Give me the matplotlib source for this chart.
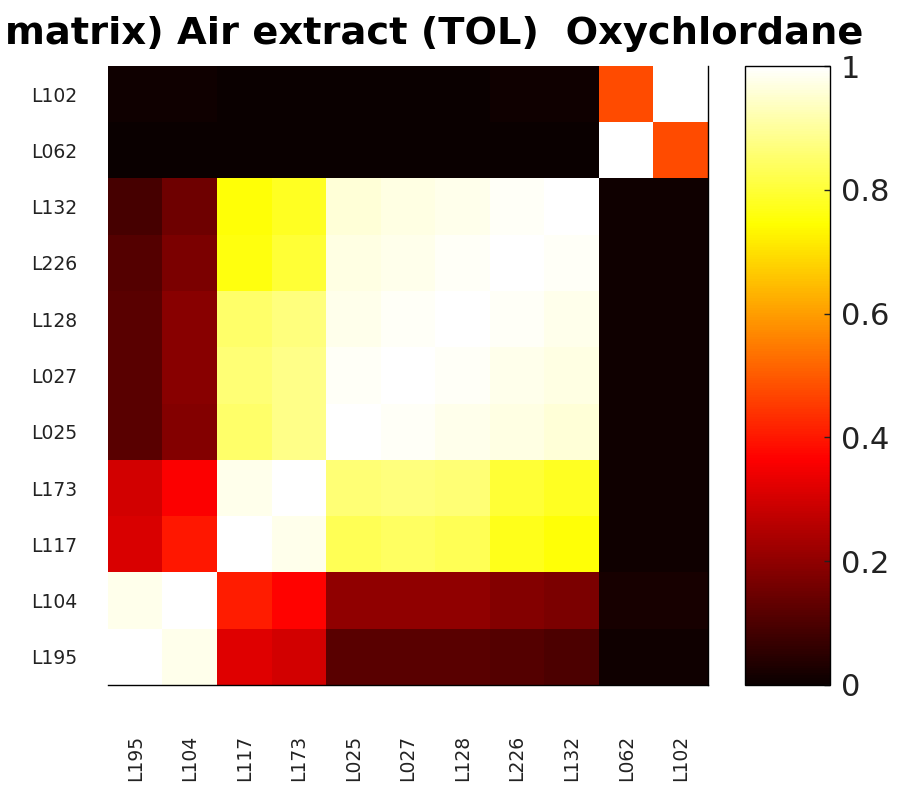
import numpy as np
import matplotlib
matplotlib.use("Agg")
import matplotlib.pyplot as plt

# sample labels (rows top -> bottom, columns left -> right)
row_labels = ["L102", "L062", "L132", "L226", "L128", "L027", "L025", "L173", "L117", "L104", "L195"]
col_labels = ["L195", "L104", "L117", "L173", "L025", "L027", "L128", "L226", "L132", "L062", "L102"]

# correlation values
r_L102 = [0.01, 0.01, 0.00, 0.00, 0.00, 0.00, 0.00, 0.01, 0.01, 0.48, 1.00]
r_L062 = [0.00, 0.00, 0.00, 0.00, 0.00, 0.00, 0.00, 0.00, 0.00, 1.00, 0.48]
r_L132 = [0.09, 0.15, 0.75, 0.78, 0.96, 0.97, 0.98, 0.99, 1.00, 0.01, 0.01]
r_L226 = [0.11, 0.17, 0.76, 0.80, 0.97, 0.98, 0.99, 1.00, 0.99, 0.01, 0.01]
r_L128 = [0.12, 0.19, 0.85, 0.87, 0.98, 0.99, 1.00, 0.99, 0.98, 0.01, 0.01]
r_L027 = [0.12, 0.19, 0.86, 0.88, 0.99, 1.00, 0.99, 0.98, 0.97, 0.01, 0.01]
r_L025 = [0.12, 0.18, 0.85, 0.88, 1.00, 0.99, 0.98, 0.97, 0.96, 0.01, 0.01]
r_L173 = [0.30, 0.36, 0.98, 1.00, 0.86, 0.87, 0.86, 0.80, 0.78, 0.01, 0.01]
r_L117 = [0.31, 0.40, 1.00, 0.98, 0.83, 0.84, 0.83, 0.77, 0.75, 0.01, 0.01]
r_L104 = [0.98, 1.00, 0.41, 0.37, 0.20, 0.20, 0.20, 0.18, 0.17, 0.02, 0.02]
r_L195 = [1.00, 0.98, 0.32, 0.30, 0.12, 0.12, 0.12, 0.11, 0.10, 0.01, 0.01]

corr = np.array([r_L102, r_L062, r_L132, r_L226, r_L128, r_L027,
                 r_L025, r_L173, r_L117, r_L104, r_L195])

fig = plt.figure(figsize=(9.01, 7.96), dpi=100)
ax = fig.add_axes([108 / 901, 1 - 685 / 796, 600 / 901, 619 / 796])
im = ax.imshow(corr, cmap="hot", vmin=0, vmax=1, aspect="auto", interpolation="nearest")

ax.set_xticks(range(len(col_labels)))
ax.set_xticklabels(col_labels, rotation=90, fontsize=13.5, color="#222222")
ax.set_yticks(range(len(row_labels)))
ax.set_yticklabels(row_labels, fontsize=13.5, color="#222222")
ax.tick_params(axis="x", length=0, pad=36)
ax.tick_params(axis="y", length=0, pad=22)
ax.spines["left"].set_visible(False)
ax.spines["top"].set_visible(False)
ax.spines["right"].set_linewidth(1.0)
ax.spines["bottom"].set_linewidth(1.0)

# colorbar
cax = fig.add_axes([745 / 901, 1 - 685 / 796, 85 / 901, 619 / 796])
cb = fig.colorbar(im, cax=cax, ticks=[0, 0.2, 0.4, 0.6, 0.8, 1])
cb.ax.set_yticklabels(["0", "0.2", "0.4", "0.6", "0.8", "1"])
cb.ax.tick_params(labelsize=22, direction="in", length=4, width=1, pad=8, colors="#222222")
cb.outline.set_linewidth(1.0)

fig.text(5 / 901, 1 - 34 / 796, "matrix) Air extract (TOL)  Oxychlordane",
         ha="left", va="center", fontsize=27.6, fontweight="bold",
         family="DejaVu Sans", color="black")

fig.savefig("out.png", dpi=100)
